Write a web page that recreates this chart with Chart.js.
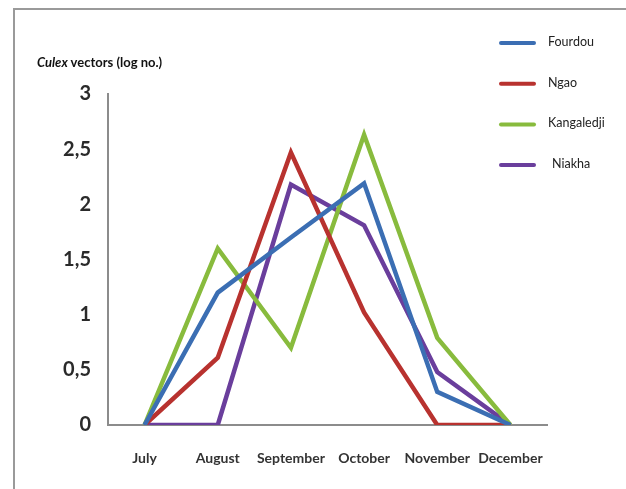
<!DOCTYPE html>
<html>
<head>
<meta charset="utf-8">
<script src="https://cdn.jsdelivr.net/npm/chart.js@4/dist/chart.umd.min.js"></script>
<style>
html,body{margin:0;padding:0;background:#fff;}
#wrap{width:626px;height:489px;position:relative;}
</style>
</head>
<body>
<div id="wrap"><canvas id="grafico" width="626" height="489"></canvas></div>
<script>
const meses = ['July','August','September','October','November','December'];
const fourdou = [0, 1.2, 1.7, 2.19, 0.3, 0];
const ngao = [0, 0.61, 2.47, 1.02, 0, 0];
const kangaledji = [0, 1.6, 0.7, 2.63, 0.79, 0];
const niakha = [0, 0, 2.18, 1.81, 0.48, 0];
const yTicks = [0, 0.5, 1, 1.5, 2, 2.5, 3];

const cores = {fourdou:'#3b6eb3', ngao:'#b8322f', kangaledji:'#88bb3d', niakha:'#6a3e9c'};

function serie(nome, valores, cor){
    return {label:nome, data:valores, borderColor:cor, backgroundColor:cor,
        borderWidth:4.5, pointRadius:0, tension:0, fill:false};
}

// moldura, titulo e legenda desenhados por cima
const extras = {
    id:'extras',
    afterDraw(chart){
        const c = chart.ctx;
        c.save();
        c.strokeStyle = '#9a9a9a';
        c.lineWidth = 2;
        c.beginPath();
        c.moveTo(14, 489);
        c.lineTo(14, 9);
        c.lineTo(626, 9);
        c.stroke();

        c.fillStyle = '#111';
        c.textBaseline = 'alphabetic';
        c.font = 'italic bold 13px Lato';
        c.fillText('Culex', 37, 67);
        const w = c.measureText('Culex ').width;
        c.font = 'bold 13px Lato';
        c.fillText('vectors (log no.)', 37 + w, 67);

        c.font = '12.5px Lato';
        c.textBaseline = 'middle';
        chart.data.datasets.forEach((d, i) => {
            const y = 43 + i * 40.7;
            c.strokeStyle = d.borderColor;
            c.lineWidth = 4;
            c.lineCap = 'round';
            c.beginPath();
            c.moveTo(501, y);
            c.lineTo(534, y);
            c.stroke();
            c.fillStyle = '#222';
            c.fillText(d.label, i === 3 ? 552 : 548, y - 1);
        });
        c.restore();
    }
};

new Chart(document.getElementById('grafico'), {
    type:'line',
    data:{
        labels:meses,
        datasets:[
            serie('Fourdou', fourdou, cores.fourdou),
            serie('Ngao', ngao, cores.ngao),
            serie('Kangaledji', kangaledji, cores.kangaledji),
            serie('Niakha', niakha, cores.niakha)
        ]
    },
    options:{
        responsive:false,
        animation:false,
        layout:{padding:{left:0, right:79, top:94, bottom:0}},
        plugins:{legend:{display:false}, tooltip:{enabled:false}, title:{display:false}},
        scales:{
            x:{
                offset:true,
                grid:{display:false, drawTicks:false},
                border:{color:'#8c8c8c', width:2},
                ticks:{font:{family:'Lato', size:14, weight:'bold'}, color:'#333', padding:25, maxRotation:0, autoSkip:false},
                afterFit(s){ s.height = 64; }
            },
            y:{
                min:0, max:3,
                grid:{display:false, drawTicks:false},
                border:{color:'#8c8c8c', width:2},
                afterBuildTicks(s){ s.ticks = yTicks.map(v => ({value:v})); },
                ticks:{
                    font:{family:'Lato', size:20, weight:'bold'}, color:'#2a2a2a', padding:17,
                    callback:v => String(v).replace('.', ',')
                },
                afterFit(s){ s.width = 108; }
            }
        }
    },
    plugins:[extras]
});
</script>
</body>
</html>
